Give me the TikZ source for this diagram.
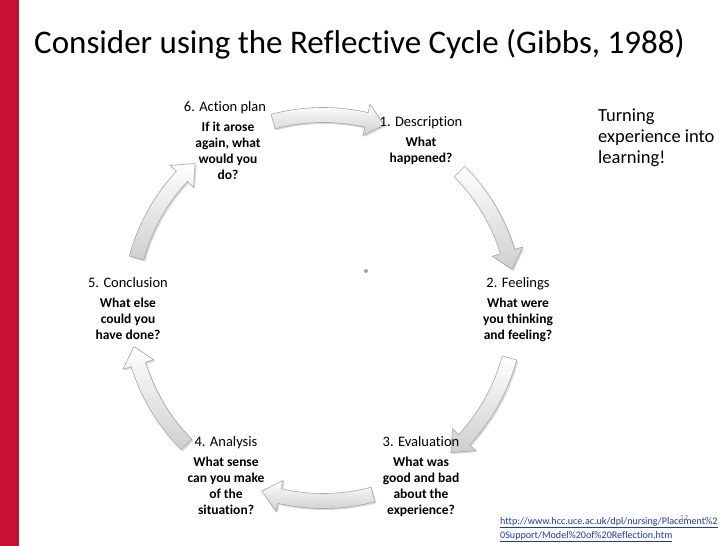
\documentclass[tikz,border=0pt]{standalone}
\usepackage{fontspec}
\setmainfont{Carlito}[Ligatures=NoCommon]
\usetikzlibrary{shadows}
\definecolor{barred}{RGB}{200,16,52}
\definecolor{urlblue}{RGB}{30,60,160}
\newcommand\cycarrow[1]{%
  \pgfmathsetmacro\ta{#1+15}%
  \pgfmathsetmacro\tb{#1-13}%
  \pgfmathsetmacro\tc{#1-18.5}%
  \path[arrowbody] (\ta:200.5pt) arc[start angle=\ta, end angle=\tb, radius=200.5pt]
    -- (\tb:209pt) -- (\tc:193pt) -- (\tb:177pt) -- (\tb:185.5pt)
    arc[start angle=\tb, end angle=\ta, radius=185.5pt] -- cycle;
}
\begin{document}
\begin{tikzpicture}[x=1pt,y=1pt,
  arrowbody/.style={draw=gray!70, line width=0.6pt, top color=white, bottom color=gray!38,
    drop shadow={shadow xshift=1.5pt, shadow yshift=-1.5pt, opacity=0.3}},
  lab/.style={font=\fontsize{14.5}{16}\selectfont, inner sep=0, anchor=base},
  q/.style={font=\fontsize{13.5}{16}\selectfont\bfseries, align=center, inner sep=0, anchor=north}]
\useasboundingbox (0,0) rectangle (728,-546);
\fill[barred] (0,0) rectangle (19,-546);
\node[anchor=base west, font=\fontsize{33}{36}\selectfont, inner sep=0] (title) at (34,-53)
  {Consider using the Reflective Cycle (Gibbs, 1988)};
\begin{scope}[shift={(323,-308)}]
  \foreach \m in {90,30,-30,-90,-150,150} {\cycarrow{\m}}
\end{scope}
\fill[gray!70] (366,-271) circle (2);
% labels
\node[lab] (l6) at (225,-111) {6. Action plan};
\node[lab] (l1) at (421,-126) {1. Description};
\node[lab] (l2) at (518,-287) {2. Feelings};
\node[lab] (l3) at (421,-446) {3. Evaluation};
\node[lab] (l4) at (226,-446) {4. Analysis};
\node[lab] (l5) at (128,-287) {5. Conclusion};
% questions
\node[q] (q6) at (228,-122) {If it arose\\again, what\\would you\\do?};
\node[q] (q1) at (421,-137) {What\\happened?};
\node[q] (q2) at (518,-298) {What were\\you thinking\\and feeling?};
\node[q] (q3) at (421,-457) {What was\\good and bad\\about the\\experience?};
\node[q] (q4) at (226,-457) {What sense\\can you make\\of the\\situation?};
\node[q] (q5) at (128,-298) {What else\\could you\\have done?};
% side text
\node[anchor=north west, inner sep=0, align=left, font=\fontsize{18.5}{21}\selectfont] (turn) at (598,-109)
  {Turning\\experience into\\learning!};
\node[anchor=north west, inner sep=0, align=left, text=urlblue, font=\fontsize{10.1}{14}\selectfont] (url) at (500,-517)
  {\underline{http://www.hcc.uce.ac.uk/dpl/nursing/Placement\%2}\\\underline{0Support/Model\%20of\%20Reflection.htm}};
\node[font=\fontsize{8}{8}\selectfont, text=gray, inner sep=0] (num) at (684,-518) {12};
\end{tikzpicture}
\end{document}
